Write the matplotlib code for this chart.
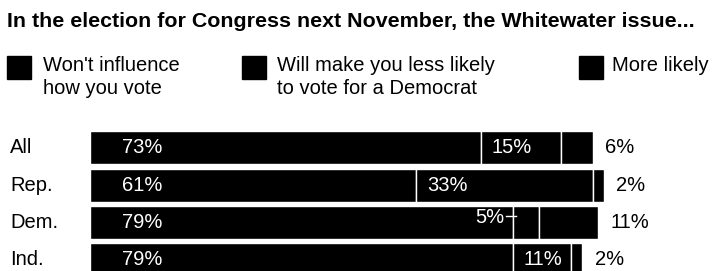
import matplotlib
matplotlib.use('Agg')
import matplotlib.pyplot as plt
import matplotlib.transforms as mtransforms
from matplotlib.patches import Rectangle

plt.rcParams['font.family'] = ['Liberation Sans', 'DejaVu Sans']

title = 'In the election for Congress next November, the Whitewater issue...'
groups = ['All', 'Rep.', 'Dem.', 'Ind.']
wont_influence = [73, 61, 79, 79]
less_likely = [15, 33, 5, 11]
more_likely = [6, 2, 11, 2]
legend_labels = ["Won't influence\nhow you vote",
                 'Will make you less likely\nto vote for a Democrat',
                 'More likely']

W, H = 713, 271
fig = plt.figure(figsize=(W / 100, H / 100), dpi=100)

# pixel helpers
def fx(px):
    return px / W

def fy(py):
    return 1 - py / H

# bar axes: left edge at 90px, 5.35px per percent, rows 37.3px apart
ppp = 5.35
pitch = 37.3
top = 129.15
ax = fig.add_axes([fx(90), fy(top + 4 * pitch), fx(W - 90), 4 * pitch / H])
ax.set_xlim(0, (W - 90) / ppp)
ax.set_ylim(3.5, -0.5)
ax.axis('off')

y = range(len(groups))
left2 = [a for a in wont_influence]
left3 = [a + b for a, b in zip(wont_influence, less_likely)]
bh = 0.885
ax.barh(y, wont_influence, height=bh, color='black', edgecolor='white', linewidth=1)
ax.barh(y, less_likely, left=left2, height=bh, color='black', edgecolor='white', linewidth=1)
ax.barh(y, more_likely, left=left3, height=bh, color='black', edgecolor='white', linewidth=1)

fs = 14.5
for i in y:
    ax.text(32 / ppp, i, f'{wont_influence[i]}%', color='white', fontsize=fs,
            va='center', ha='left')
    if less_likely[i] < 8:
        # too narrow: label sits left of the segment with a small leader
        ax.text(left2[i] - 8 / ppp, i - 0.12, f'{less_likely[i]}%', color='white',
                fontsize=fs, va='center', ha='right')
        ax.plot([left2[i] - 7 / ppp, left2[i] + 3 / ppp], [i - 0.18, i - 0.18],
                color='white', lw=1)
    else:
        ax.text(left2[i] + 11 / ppp, i, f'{less_likely[i]}%', color='white',
                fontsize=fs, va='center', ha='left')
    ax.text(left3[i] + more_likely[i] + 12.5 / ppp, i, f'{more_likely[i]}%',
            color='black', fontsize=fs, va='center', ha='left')

# category labels at the left edge of the figure
trans = mtransforms.blended_transform_factory(fig.transFigure, ax.transData)
for i, g in enumerate(groups):
    ax.text(fx(10), i, g, transform=trans, fontsize=fs, va='center', ha='left')

# title
fig.text(fx(7), fy(27), title, fontsize=15.4, fontweight='bold',
         va='baseline', ha='left')

# legend
sq_x = [7, 242, 579]
txt_x = [43, 277, 612]
for sx, tx, lab in zip(sq_x, txt_x, legend_labels):
    fig.patches.append(Rectangle((fx(sx), fy(79)), fx(24), 23 / H,
                                 transform=fig.transFigure, color='black'))
    fig.text(fx(tx), fy(56), lab, fontsize=fs, va='top', ha='left',
             linespacing=1.3)

plt.savefig('out.png', dpi=100)
